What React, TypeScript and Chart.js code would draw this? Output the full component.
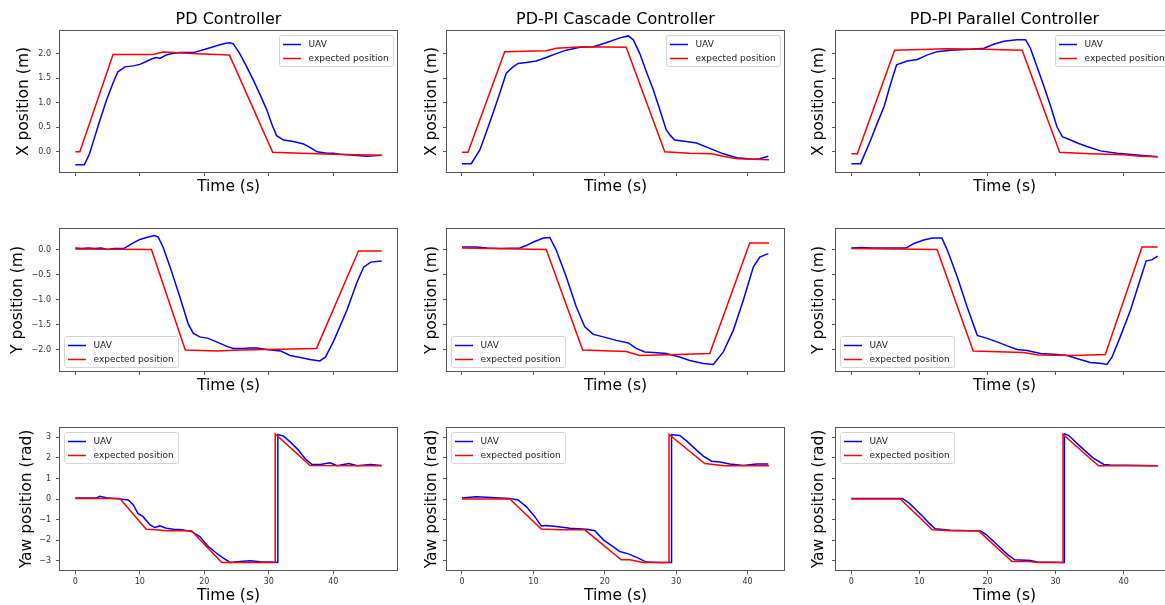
import React, { useEffect, useRef } from "react";
import { Chart, registerables } from "chart.js";

Chart.register(...registerables);

// ---------- tick labels ----------
const timeTicks = [0, 10, 20, 30, 40];
const xPosTicks = [0, 0.5, 1, 1.5, 2];
const yPosTicks = [-2, -1.5, -1, -0.5, 0];
const yawTicks = [-3, -2, -1, 0, 1, 2, 3];

// ---------- PD controller ----------
const pdXExpT = [0, 0.7, 5.85, 12.1, 13.6, 15.2, 18, 23.9, 30.6, 35, 40, 47.5];
const pdXExpV = [0, 0, 1.98, 1.98, 2.03, 2.02, 2.0, 1.97, -0.01, -0.03, -0.05, -0.07];
const pdXUavT = [0, 1.4, 2.2, 3.0, 3.8, 4.8, 5.85, 6.6, 7.7, 9.0, 10.0, 11.0, 12.0, 12.6, 13.1, 14.1, 15.0, 16.2, 18.3, 20.4, 22.4, 23.4, 24.0, 24.5, 25.5, 26.5, 27.6, 28.7, 29.7, 30.5, 31.2, 32.3, 33.8, 35.4, 36.5, 37.5, 39.0, 40.0, 41.1, 42.1, 43.2, 44.2, 45.2, 46.3, 47.5];
const pdXUavV = [-0.26, -0.26, -0.04, 0.3, 0.64, 1.04, 1.4, 1.63, 1.73, 1.75, 1.78, 1.84, 1.9, 1.92, 1.9, 1.97, 2.0, 2.02, 2.02, 2.1, 2.18, 2.21, 2.22, 2.2, 2.0, 1.75, 1.46, 1.15, 0.85, 0.55, 0.33, 0.24, 0.21, 0.16, 0.08, 0.0, -0.03, -0.03, -0.05, -0.06, -0.07, -0.08, -0.09, -0.08, -0.07];

const pdYExpT = [0, 11.8, 17.05, 21.9, 25.5, 37.4, 43.9, 47.5];
const pdYExpV = [0.01, 0.0, -2.0, -2.02, -2.0, -1.97, -0.03, -0.03];
const pdYUavT = [0, 1, 2, 3, 4, 5, 6, 7.5, 8.4, 9.2, 10.0, 11.3, 12.3, 12.85, 13.6, 14.7, 16.2, 17.5, 18.3, 19.3, 20.6, 21.9, 23.5, 24.5, 26.1, 27.0, 28.1, 29.7, 31.8, 33.3, 34.9, 36.4, 37.9, 38.8, 40.1, 42.1, 43.7, 44.7, 45.8, 47.5];
const pdYUavV = [0.03, 0.02, 0.03, 0.02, 0.03, 0.0, 0.02, 0.02, 0.09, 0.15, 0.2, 0.25, 0.28, 0.25, 0.05, -0.35, -0.94, -1.48, -1.67, -1.74, -1.77, -1.84, -1.93, -1.97, -1.97, -1.96, -1.96, -1.99, -2.02, -2.11, -2.15, -2.19, -2.22, -2.14, -1.81, -1.21, -0.64, -0.35, -0.25, -0.23];

const pdYawExpT = [0, 6.9, 11.0, 12.6, 14.1, 18.0, 22.7, 29.7, 31.0, 31.0, 36.4, 47.5];
const pdYawExpV = [0.02, 0.02, -1.47, -1.5, -1.55, -1.55, -3.09, -3.09, -3.09, 3.17, 1.63, 1.62];
const pdYawUavT = [0, 3.3, 3.8, 4.8, 6.9, 8.2, 9.0, 9.7, 10.5, 11.6, 12.3, 13.1, 14.1, 15.2, 16.5, 18.0, 19.3, 20.6, 21.9, 22.95, 24.0, 25.5, 27.1, 28.65, 30.2, 31.4, 31.4, 32.3, 33.3, 34.6, 35.6, 36.7, 38.0, 39.5, 40.6, 42.4, 43.7, 45.75, 47.5];
const pdYawUavV = [0.05, 0.05, 0.13, 0.06, 0.0, -0.05, -0.29, -0.7, -0.86, -1.26, -1.39, -1.31, -1.42, -1.47, -1.5, -1.58, -1.83, -2.31, -2.64, -2.88, -3.09, -3.04, -3.01, -3.06, -3.07, -3.09, 3.14, 3.06, 2.78, 2.38, 1.97, 1.68, 1.68, 1.76, 1.62, 1.73, 1.62, 1.68, 1.63];

// ---------- PD-PI cascade controller ----------
const ccXExpT = [0, 0.84, 5.98, 11.8, 13.2, 17.0, 23.0, 28.4, 31.9, 34.95, 36.6, 38.5, 40.8, 43.0];
const ccXExpV = [-0.01, -0.01, 2.04, 2.06, 2.11, 2.14, 2.13, 0.0, -0.03, -0.04, -0.09, -0.14, -0.15, -0.16];
const ccXUavT = [0, 1.3, 2.5, 3.4, 4.35, 5.3, 6.2, 7.15, 7.85, 9.0, 10.4, 11.8, 13.2, 14.6, 16.5, 18.4, 20.2, 22.1, 23.3, 24.0, 24.9, 25.8, 26.8, 27.7, 28.6, 29.2, 29.8, 31.4, 32.85, 34.7, 36.6, 38.5, 40.8, 41.7, 42.9];
const ccXUavV = [-0.24, -0.24, 0.04, 0.4, 0.79, 1.2, 1.6, 1.73, 1.8, 1.82, 1.85, 1.92, 2.0, 2.07, 2.13, 2.14, 2.22, 2.32, 2.36, 2.28, 2.0, 1.64, 1.26, 0.86, 0.45, 0.33, 0.24, 0.21, 0.18, 0.07, -0.04, -0.12, -0.15, -0.14, -0.09];

const ccYExpT = [0, 11.8, 16.9, 23.0, 24.9, 30.0, 34.7, 40.3, 43.0];
const ccYExpV = [0.03, 0.0, -2.0, -2.03, -2.11, -2.09, -2.07, 0.13, 0.13];
const ccYUavT = [0, 2.0, 3.5, 5.3, 8.1, 9.0, 10.0, 11.4, 12.3, 13.2, 14.6, 16.0, 17.2, 18.4, 19.8, 21.6, 23.3, 24.4, 25.6, 26.8, 28.6, 30.5, 31.9, 33.8, 35.2, 36.6, 38.0, 39.4, 40.8, 41.7, 42.9];
const ccYUavV = [0.05, 0.05, 0.03, 0.02, 0.03, 0.08, 0.15, 0.23, 0.24, -0.01, -0.54, -1.14, -1.54, -1.69, -1.74, -1.81, -1.86, -1.97, -2.04, -2.05, -2.07, -2.14, -2.21, -2.27, -2.29, -2.04, -1.61, -1.01, -0.35, -0.15, -0.08];

const ccYawExpT = [0, 6.7, 11.1, 13.7, 17.2, 22.3, 23.5, 25.4, 29.0, 29.0, 34.0, 36.8, 43.0];
const ccYawExpV = [0, 0, -1.46, -1.5, -1.5, -2.96, -2.96, -3.09, -3.09, 3.14, 1.73, 1.62, 1.62];
const ccYawUavT = [0, 2.0, 3.4, 5.3, 6.7, 7.85, 9.0, 10.2, 11.1, 11.8, 13.2, 15.1, 17.4, 18.6, 19.8, 21.0, 22.1, 23.3, 24.7, 25.8, 27.7, 29.35, 29.35, 30.5, 31.45, 32.85, 33.8, 34.95, 36.1, 37.5, 39.4, 41.3, 42.9];
const ccYawUavV = [0.05, 0.11, 0.08, 0.05, 0.03, -0.05, -0.37, -0.86, -1.31, -1.29, -1.34, -1.42, -1.47, -1.54, -1.99, -2.28, -2.56, -2.67, -2.88, -3.07, -3.09, -3.09, 3.14, 3.09, 2.83, 2.38, 2.09, 1.84, 1.8, 1.7, 1.63, 1.7, 1.7];

// ---------- PD-PI parallel controller ----------
const plXExpT = [0, 0.88, 6.36, 14.1, 19.5, 25.1, 30.6, 35.1, 40.0, 42.4, 45.0];
const plXExpV = [-0.04, -0.04, 2.07, 2.1, 2.09, 2.07, -0.01, -0.04, -0.06, -0.09, -0.1];
const plXUavT = [0, 1.37, 2.84, 3.8, 4.8, 5.7, 6.65, 7.2, 8.2, 9.7, 11.1, 12.6, 14.6, 17.5, 19.5, 20.9, 22.4, 24.35, 25.6, 26.3, 27.3, 28.3, 29.3, 30.2, 31.0, 32.2, 33.2, 34.6, 36.6, 39.0, 42.4, 45.0];
const plXUavV = [-0.24, -0.24, 0.24, 0.58, 0.92, 1.35, 1.77, 1.8, 1.85, 1.88, 1.97, 2.04, 2.07, 2.09, 2.11, 2.19, 2.25, 2.28, 2.28, 2.11, 1.72, 1.33, 0.92, 0.51, 0.31, 0.24, 0.18, 0.11, 0.02, -0.03, -0.07, -0.1];

const plYExpT = [0, 12.6, 17.9, 25.3, 27.5, 32.7, 37.3, 42.7, 45.0];
const plYExpV = [0.02, 0.0, -2.02, -2.05, -2.1, -2.11, -2.09, 0.05, 0.05];
const plYUavT = [0, 1.4, 3, 5, 8.0, 9.2, 10.66, 11.9, 13.3, 14.1, 15.55, 17.0, 18.5, 19.95, 21.4, 22.9, 24.35, 25.8, 27.8, 30.2, 31.7, 33.6, 35.1, 36.8, 37.55, 38.3, 39.5, 41.0, 42.4, 43.3, 44.2, 45.0];
const plYUavV = [0.03, 0.04, 0.03, 0.03, 0.03, 0.12, 0.19, 0.23, 0.23, -0.01, -0.54, -1.14, -1.71, -1.77, -1.84, -1.92, -1.99, -2.01, -2.07, -2.09, -2.11, -2.19, -2.25, -2.27, -2.29, -2.14, -1.74, -1.21, -0.61, -0.23, -0.2, -0.13];

const plYawExpT = [0, 7.2, 11.9, 14.6, 18.7, 23.6, 26.3, 27.3, 31.1, 31.1, 36.3, 45.0];
const plYawExpV = [0, 0, -1.5, -1.55, -1.55, -3.04, -3.04, -3.09, -3.09, 3.14, 1.62, 1.62];
const plYawUavT = [0, 7.5, 8.5, 9.5, 10.5, 11.5, 12.3, 14.6, 19.0, 19.8, 21.5, 23.0, 24.0, 26.3, 27.3, 31.3, 31.3, 31.9, 33.5, 35.5, 37.1, 38.0, 45.0];
const plYawUavV = [0.03, 0.03, -0.2, -0.52, -0.85, -1.2, -1.45, -1.52, -1.56, -1.73, -2.25, -2.72, -2.96, -2.99, -3.07, -3.09, 3.17, 3.1, 2.6, 2.0, 1.68, 1.65, 1.62];

// ---------- layout ----------
const FONT = "'DejaVu Sans', sans-serif";

const cols = [
  { title: "PD Controller", xMin: -2.375, xMax: 49.875, L: 60, R: 397, yTitleD: [36.5, 41.7, 32.7] },
  { title: "PD-PI Cascade Controller", xMin: -2.1, xMax: 45.1, L: 447, R: 784, yTitleD: [15.5, 15.5, 15.5] },
  { title: "PD-PI Parallel Controller", xMin: -2.25, xMax: 47.25, L: 836, R: 1173, yTitleD: [17, 17, 17] },
];

const rows = [
  { label: "X position (m)", yMin: -0.41, yMax: 2.46, ticks: xPosTicks, dec: 1, legend: "tr", T: 31, B: 172, xTitleE: 15 },
  { label: "Y position (m)", yMin: -2.42, yMax: 0.41, ticks: yPosTicks, dec: 1, legend: "bl", T: 229, B: 371, xTitleE: 14.8 },
  { label: "Yaw position (rad)", yMin: -3.456, yMax: 3.456, ticks: yawTicks, dec: 0, legend: "tl", T: 428, B: 570, xTitleE: 26.3 },
];

const seriesGrid = [
  [
    [pdXUavT, pdXUavV, pdXExpT, pdXExpV],
    [ccXUavT, ccXUavV, ccXExpT, ccXExpV],
    [plXUavT, plXUavV, plXExpT, plXExpV],
  ],
  [
    [pdYUavT, pdYUavV, pdYExpT, pdYExpV],
    [ccYUavT, ccYUavV, ccYExpT, ccYExpV],
    [plYUavT, plYUavV, plYExpT, plYExpV],
  ],
  [
    [pdYawUavT, pdYawUavV, pdYawExpT, pdYawExpV],
    [ccYawUavT, ccYawUavV, ccYawExpT, ccYawExpV],
    [plYawUavT, plYawUavV, plYawExpT, plYawExpV],
  ],
];

const toPts = (t: number[], v: number[]) => t.map((x, i) => ({ x, y: v[i] }));
const fmt = (v: number, dec: number) => {
  const s = Math.abs(v).toFixed(dec);
  return v < 0 ? "\u2212" + s : s;
};

const framePlugin = {
  id: "frame",
  afterDatasetsDraw(chart: any) {
    const { ctx, chartArea: a } = chart;
    ctx.save();
    ctx.strokeStyle = "#555";
    ctx.lineWidth = 1;
    ctx.strokeRect(Math.round(a.left) - 0.5, Math.round(a.top) - 0.5, Math.round(a.right - a.left) + 1, Math.round(a.bottom - a.top) + 1);
    ctx.restore();
  },
};

const boxLegendPlugin = {
  id: "boxLegend",
  afterDraw(chart: any, _args: any, opts: any) {
    if (!opts || !opts.pos) return;
    const { ctx, chartArea: a } = chart;
    const w = 114, h = 31, inset = 4;
    const x = opts.pos === "tr" ? Math.round(a.right - inset - w) : Math.round(a.left + inset);
    const y = opts.pos === "bl" ? Math.round(a.bottom - inset - h) : Math.round(a.top + inset);
    ctx.save();
    ctx.beginPath();
    ctx.roundRect(x + 0.5, y + 0.5, w, h, 2.5);
    ctx.fillStyle = "rgba(255,255,255,0.8)";
    ctx.fill();
    ctx.strokeStyle = "#d5d5d5";
    ctx.lineWidth = 1;
    ctx.stroke();
    chart.data.datasets.forEach((ds: any, i: number) => {
      const ly = y + 9.5 + i * 14;
      ctx.beginPath();
      ctx.moveTo(x + 4, ly);
      ctx.lineTo(x + 22, ly);
      ctx.strokeStyle = ds.borderColor;
      ctx.lineWidth = 1.5;
      ctx.stroke();
      ctx.fillStyle = "#222";
      ctx.font = "9px " + FONT;
      ctx.textBaseline = "middle";
      ctx.textAlign = "left";
      ctx.fillText(ds.label, x + 29.5, ly);
    });
    ctx.restore();
  },
};

function Panel({ r, c }: { r: number; c: number }) {
  const ref = useRef<HTMLCanvasElement>(null);
  const col = cols[c];
  const row = rows[r];
  const left = col.L - 60;
  const top = row.T - 31;
  const W = col.R - col.L + 68;
  const H = row.B - row.T + 71;

  useEffect(() => {
    const [ut, uv, et, ev] = seriesGrid[r][c];
    const showX = r === 2;
    const showY = c === 0;
    const yTitlePad = 60 - col.yTitleD[r] - 7.75;
    const xTitlePad = 40 - row.xTitleE - 7.75;
    const chart = new Chart(ref.current as HTMLCanvasElement, {
      type: "line",
      data: {
        datasets: [
          { label: "UAV", data: toPts(ut, uv), borderColor: "#0000ff", backgroundColor: "#0000ff", borderWidth: 1.5, pointRadius: 0, tension: 0, order: 2 },
          { label: "expected position", data: toPts(et, ev), borderColor: "#ff0000", backgroundColor: "#ff0000", borderWidth: 1.5, pointRadius: 0, tension: 0, order: 1 },
        ],
      },
      options: {
        responsive: false,
        animation: false,
        devicePixelRatio: 1,
        events: [],
        layout: { padding: { top: r === 0 ? 0 : 31, right: 8, left: 0, bottom: 0 } },
        plugins: {
          legend: { display: false },
          tooltip: { enabled: false },
          title: {
            display: r === 0,
            text: col.title,
            fullSize: false,
            color: "#000",
            font: { size: 16, family: FONT, weight: "normal", lineHeight: 1 },
            padding: { top: 11.5, bottom: 3.5 },
          },
          boxLegend: { pos: row.legend },
        } as any,
        scales: {
          x: {
            type: "linear",
            min: col.xMin,
            max: col.xMax,
            afterBuildTicks: (s: any) => {
              s.ticks = timeTicks.map((v) => ({ value: v }));
            },
            afterFit: (s: any) => {
              s.height = 40;
            },
            ticks: {
              autoSkip: false,
              maxRotation: 0,
              padding: 3,
              color: "#333",
              font: { size: 8, family: FONT },
              callback: (v: any) => (showX ? String(v) : ""),
            },
            grid: { display: true, drawOnChartArea: false, drawTicks: true, tickLength: 4, color: "#555" },
            border: { display: false },
            title: {
              display: true,
              text: "Time (s)",
              color: "#000",
              font: { size: 15.5, family: FONT, lineHeight: 1 },
              padding: { top: 0, bottom: xTitlePad },
            },
          },
          y: {
            type: "linear",
            min: row.yMin,
            max: row.yMax,
            afterBuildTicks: (s: any) => {
              s.ticks = row.ticks.map((v) => ({ value: v }));
            },
            afterFit: (s: any) => {
              s.width = 60;
            },
            ticks: {
              autoSkip: false,
              padding: 5,
              color: "#333",
              font: { size: 8, family: FONT },
              callback: (v: any) => (showY ? fmt(Number(v), row.dec) : ""),
            },
            grid: { display: true, drawOnChartArea: false, drawTicks: true, tickLength: 4, color: "#555" },
            border: { display: false },
            title: {
              display: true,
              text: row.label,
              color: "#000",
              font: { size: 15.5, family: FONT, lineHeight: 1 },
              padding: { top: yTitlePad, bottom: 0 },
            },
          },
        },
      } as any,
      plugins: [framePlugin, boxLegendPlugin] as any,
    });
    return () => chart.destroy();
  }, [r, c]);

  return (
    <canvas
      ref={ref}
      width={W}
      height={H}
      style={{ position: "absolute", left, top, width: W, height: H, display: "block" }}
    />
  );
}

export default function App() {
  const cells: React.ReactNode[] = [];
  for (let r = 0; r < 3; r++) {
    for (let c = 0; c < 3; c++) {
      cells.push(<Panel key={r + "-" + c} r={r} c={c} />);
    }
  }
  return (
    <div
      style={{
        position: "fixed",
        left: 0,
        top: 0,
        width: 1165,
        height: 605,
        overflow: "hidden",
        background: "#fff",
      }}
    >
      {cells}
    </div>
  );
}
